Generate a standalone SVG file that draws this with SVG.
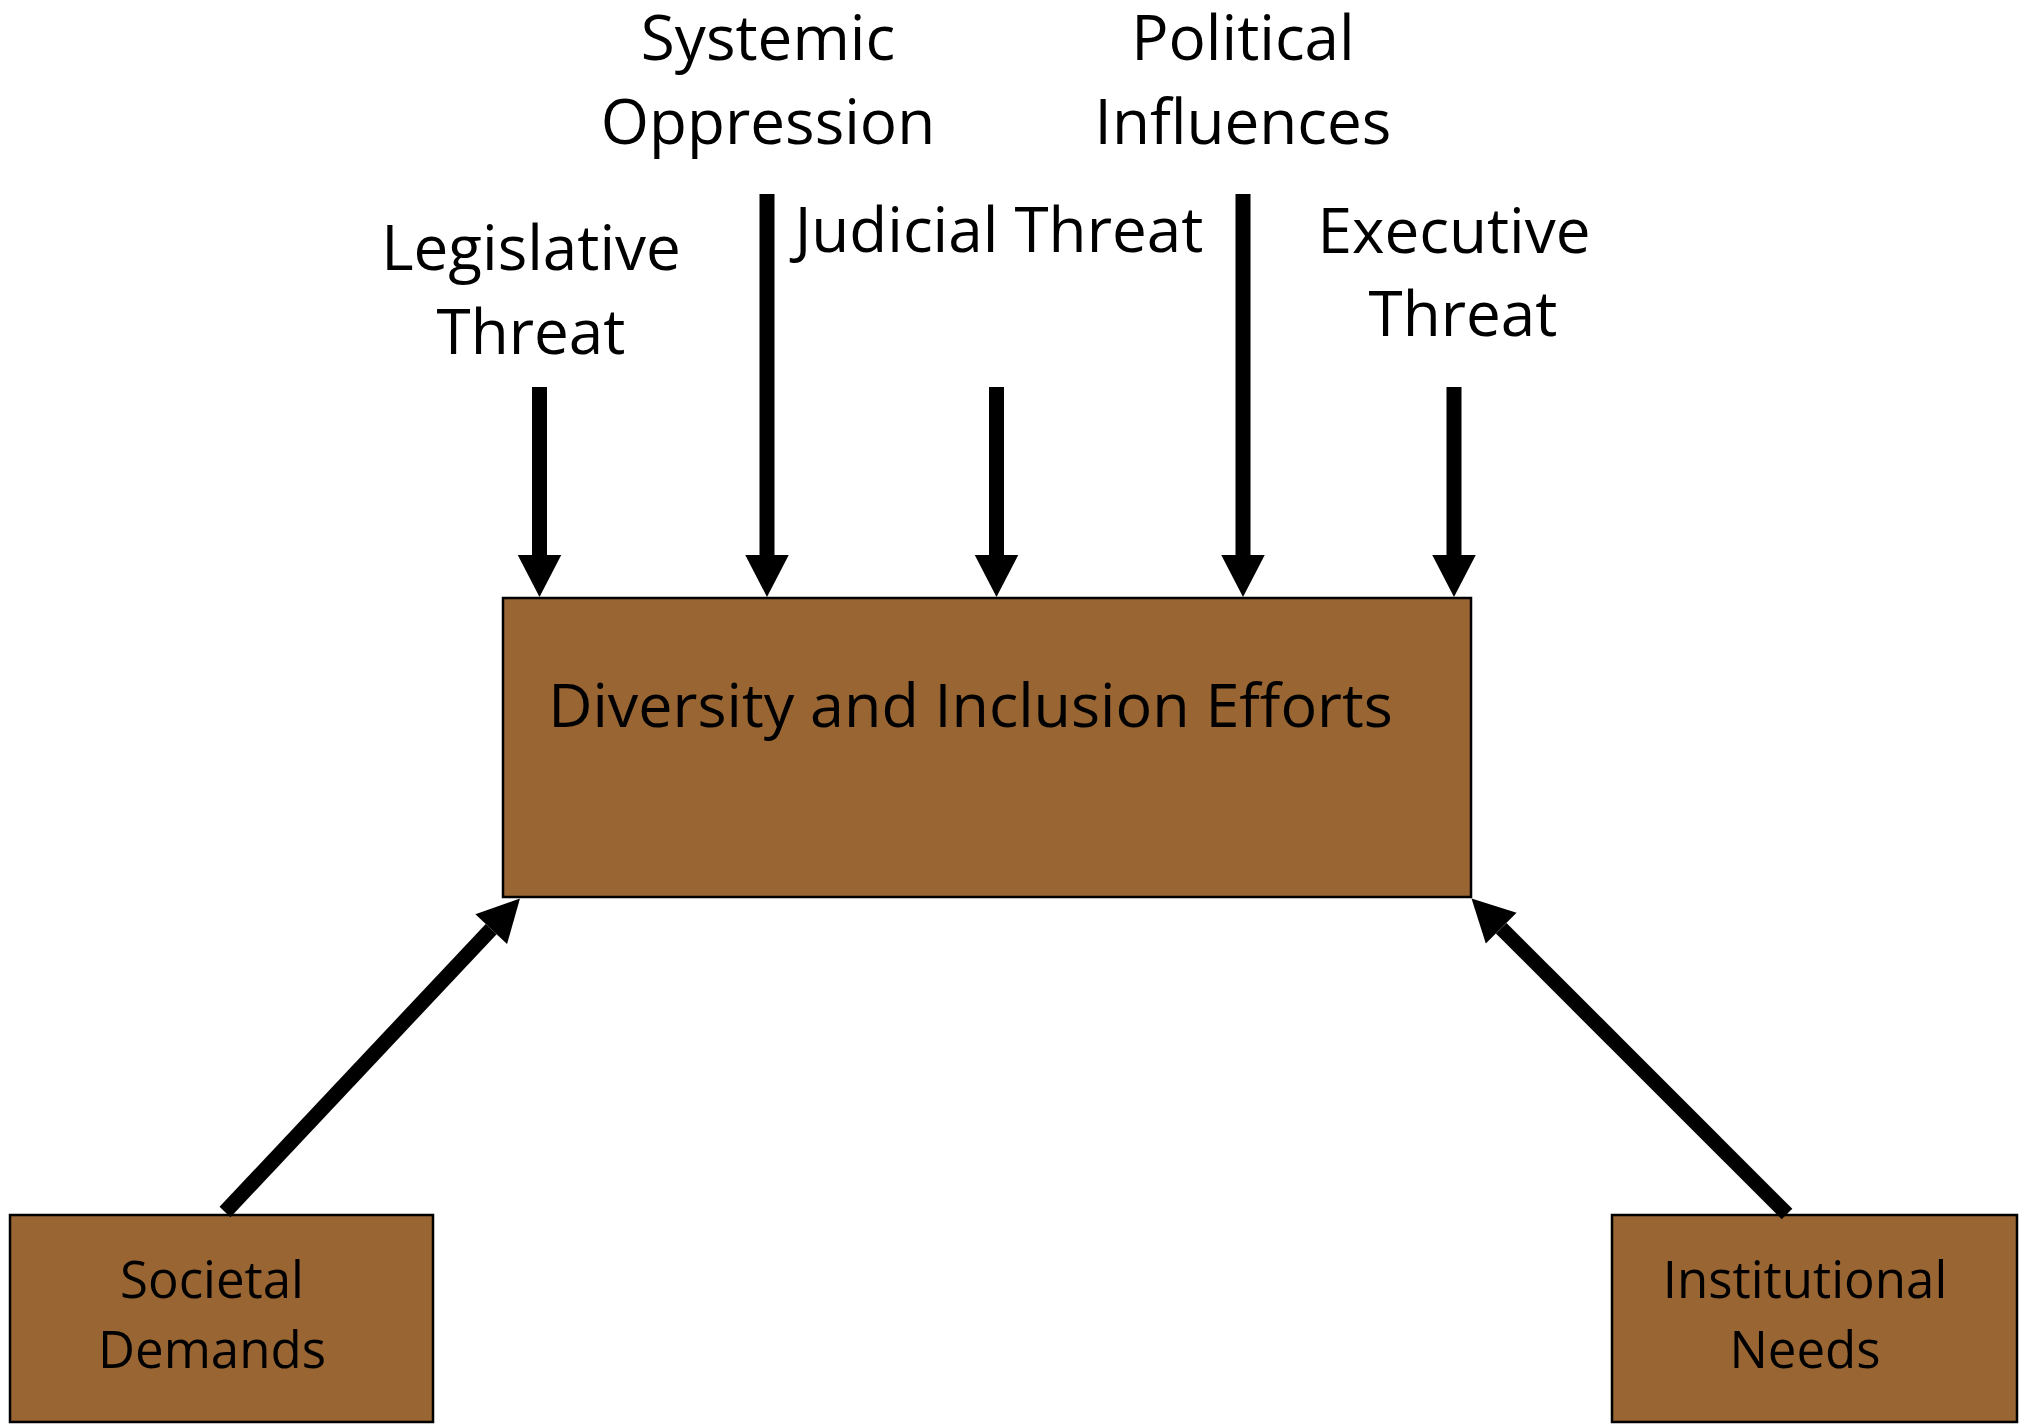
<svg xmlns="http://www.w3.org/2000/svg" width="2023" height="1424" viewBox="0 0 2023 1424">
  <style>
    .box { fill: #996633; stroke: #000000; stroke-width: 2.5; }
    .lbl { font-family: "Open Sans", "Liberation Sans", sans-serif; fill: #000000; text-anchor: middle; }
    .big { font-size: 62px; }
    .title { font-size: 61px; }
    .small { font-size: 51px; }
    .arrow { stroke: #000000; stroke-width: 15; stroke-linecap: butt; fill: none; marker-end: url(#head); }
  </style>
  <defs>
    <!-- filled triangular head, sized relative to the 15px shaft -->
    <marker id="head" markerUnits="strokeWidth" markerWidth="2.8" markerHeight="2.9" refX="0" refY="1.45" orient="auto" overflow="visible">
      <path d="M0,0 L2.8,1.45 L0,2.9 Z" fill="#000000"/>
    </marker>
  </defs>
  <rect width="2023" height="1424" fill="#ffffff"/>

  <!-- free-standing influence labels above the central box -->
  <g id="label-systemic">
    <text class="lbl big" x="768" y="60">Systemic</text>
    <text class="lbl big" x="768" y="144">Oppression</text>
  </g>
  <g id="label-political">
    <text class="lbl big" x="1243" y="60">Political</text>
    <text class="lbl big" x="1243" y="144">Influences</text>
  </g>
  <g id="label-legislative">
    <text class="lbl big" x="531" y="270">Legislative</text>
    <text class="lbl big" x="531" y="354">Threat</text>
  </g>
  <g id="label-judicial">
    <text class="lbl big" x="999" y="252">Judicial Threat</text>
  </g>
  <g id="label-executive">
    <text class="lbl big" x="1454" y="253">Executive</text>
    <text class="lbl big" x="1463" y="336">Threat</text>
  </g>

  <!-- central box -->
  <g id="node-dei">
    <rect class="box" x="503" y="598" width="968" height="299"/>
    <text class="lbl title" x="970.5" y="727">Diversity and Inclusion Efforts</text>
  </g>

  <!-- supporting sources -->
  <g id="node-societal">
    <rect class="box" x="10" y="1215" width="423" height="207"/>
    <text class="lbl small" x="212" y="1298">Societal</text>
    <text class="lbl small" x="212" y="1368">Demands</text>
  </g>
  <g id="node-institutional">
    <rect class="box" x="1612" y="1215" width="405" height="207"/>
    <text class="lbl small" x="1805" y="1298">Institutional</text>
    <text class="lbl small" x="1805" y="1368">Needs</text>
  </g>

  <!-- connectors: lines stop at the head base, the marker draws the point -->
  <g id="connectors">
    <line class="arrow" x1="539.5" y1="387" x2="539.5" y2="555"/>
    <line class="arrow" x1="767" y1="194" x2="767" y2="555"/>
    <line class="arrow" x1="996.5" y1="387" x2="996.5" y2="555"/>
    <line class="arrow" x1="1243" y1="194" x2="1243" y2="555"/>
    <line class="arrow" x1="1454" y1="387" x2="1454" y2="555"/>
    <line class="arrow" x1="225" y1="1212" x2="491.2" y2="929.1"/>
    <line class="arrow" x1="1787" y1="1214" x2="1501.2" y2="928.2"/>
  </g>
</svg>
